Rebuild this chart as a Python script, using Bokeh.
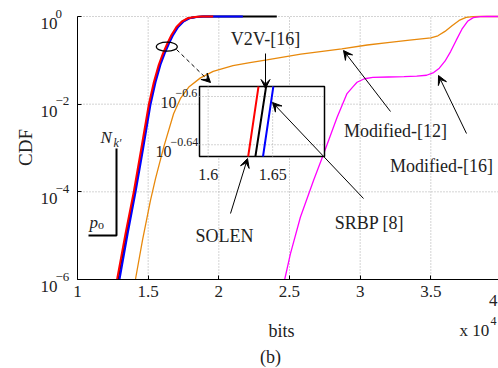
import numpy as np
from bokeh.plotting import figure
from bokeh.models import (Range1d, LogScale, FixedTicker, NumeralTickFormatter,
                          CustomJSTickFormatter, Label, Arrow, VeeHead)
from bokeh.embed import file_html
from bokeh.resources import INLINE

# ---------------------------------------------------------------------------
# Data: CDF of the number of bits (x in units of 10^4 bits)
# ---------------------------------------------------------------------------
solen_bits = [1.280, 1.340, 1.398, 1.452, 1.505, 1.540, 1.575, 1.605, 1.631,
              1.639, 1.665, 1.700, 1.740, 1.780, 1.830, 1.880, 1.960]
solen_cdf = [1e-6, 1.12e-5, 1e-4, 1e-3, 1e-2, 0.0316, 0.0794, 0.1445, 0.2239,
             0.2559, 0.3802, 0.5754, 0.7762, 0.9120, 0.9772, 0.9954, 1.0]

v2v_bits = [1.286, 1.346, 1.404, 1.458, 1.511, 1.546, 1.581, 1.611, 1.6366,
            1.6449, 1.671, 1.706, 1.746, 1.786, 1.836, 1.886, 2.000, 2.410]
v2v_cdf = [1e-6, 1.12e-5, 1e-4, 1e-3, 1e-2, 0.0316, 0.0794, 0.1445, 0.2239,
           0.2559, 0.3802, 0.5754, 0.7762, 0.9120, 0.9772, 0.9954, 0.9995, 1.0]

srbp_bits = [1.297, 1.355, 1.411, 1.465, 1.517, 1.552, 1.587, 1.617, 1.6425,
             1.6505, 1.677, 1.712, 1.752, 1.792, 1.842, 1.892, 2.000, 2.170]
srbp_cdf = [1e-6, 1.12e-5, 1e-4, 1e-3, 1e-2, 0.0316, 0.0794, 0.1445, 0.2239,
            0.2559, 0.3802, 0.5754, 0.7762, 0.9120, 0.9772, 0.9954, 0.9995, 1.0]

mod12_bits = [1.41, 1.46, 1.516, 1.552, 1.61, 1.68, 1.73, 1.79, 1.87, 1.96,
              2.10, 2.22, 2.34, 2.58, 2.87, 3.05, 3.21, 3.35, 3.50, 3.55,
              3.60, 3.65, 3.70, 3.75, 3.80, 3.85, 4.0]
mod12_cdf = [1e-6, 7.94e-6, 6.31e-5, 2.0e-4, 1.05e-3, 6.03e-3, 0.0138, 0.0251,
             0.0398, 0.0562, 0.0759, 0.0891, 0.1023, 0.1380, 0.1820, 0.2239,
             0.2570, 0.2884, 0.3236, 0.3631, 0.4571, 0.6166, 0.8128, 0.9550,
             0.9931, 1.0, 1.0]

mod16_bits = [2.466, 2.506, 2.577, 2.67, 2.742, 2.837, 2.907, 2.95, 2.978,
              3.03, 3.09, 3.20, 3.31, 3.40, 3.47, 3.52, 3.56, 3.60, 3.64,
              3.68, 3.72, 3.76, 3.80, 3.85, 3.90, 4.0]
mod16_cdf = [1e-6, 3.80e-6, 2.63e-5, 1.82e-4, 7.41e-4, 5.01e-3, 0.0174, 0.0251,
             0.0316, 0.0380, 0.0407, 0.0417, 0.0427, 0.0437, 0.0457, 0.0525,
             0.0661, 0.0955, 0.1585, 0.2884, 0.5129, 0.7762, 0.9441, 0.9931,
             1.0, 1.0]

x_ticks = [1, 1.5, 2, 2.5, 3, 3.5, 4]
x_tick_labels = ["1", "1.5", "2", "2.5", "3", "3.5", "4"]
y_ticks = [1e-6, 1e-4, 1e-2, 1]
y_tick_exponents = ["\u22126", "\u22124", "\u22122", "0"]

inset_x_ticks = [1.6, 1.65]
inset_x_labels = ["1.6", "1.65"]
inset_y_ticks = [0.2291, 0.2512]          # 10^-0.64, 10^-0.6
inset_y_exponents = ["\u22120.64", "\u22120.6"]

# ---------------------------------------------------------------------------
# Geometry (canvas pixels).  The frame covers the whole canvas; the axes sit
# at fixed data locations so that the titles and tick texts can live outside
# the data area.
# ---------------------------------------------------------------------------
W, H = 498, 368
AX_L, AX_T, AX_B = 77, 16, 279            # x = 1, CDF = 1, CDF = 1e-6
PX_PER_UNIT = 141.33                      # pixels per 10^4 bits
X_MIN, X_MAX = 1.0, 4.0
LY_MIN, LY_MAX = -6.0, 0.0
PX_PER_DEC = (AX_B - AX_T) / (LY_MAX - LY_MIN)

x_start = X_MIN - AX_L / PX_PER_UNIT
x_end = X_MIN + (W - AX_L) / PX_PER_UNIT
ly_top = LY_MAX + AX_T / PX_PER_DEC
ly_bot = LY_MIN - (H - AX_B) / PX_PER_DEC

# zoomed inset window
INSET_L, INSET_R, INSET_T, INSET_B = 199, 324, 86, 156
inset_xlim = (1.5933, 1.6902)
inset_lylim = (-0.6497, -0.5917)

FONT = "Liberation Serif"
TEXT = "#222222"
GRID = "#a8a8a8"

p = figure(width=W, height=H, x_range=Range1d(x_start, x_end),
           y_range=Range1d(10 ** ly_bot, 10 ** ly_top), y_axis_type="log",
           output_backend="svg", toolbar_location=None,
           min_border_left=0, min_border_right=0, min_border_top=0,
           min_border_bottom=0)
p.outline_line_color = None
p.background_fill_color = "white"
p.border_fill_color = "white"
p.grid.visible = False

# axes, pinned to x = 1 and CDF = 1e-6
visible_x_ticks = [t for t in x_ticks if t <= x_end]
p.xaxis.fixed_location = y_ticks[0]
p.xaxis.bounds = (X_MIN, X_MAX)
p.xaxis.ticker = FixedTicker(ticks=visible_x_ticks)
p.xaxis.formatter = NumeralTickFormatter(format="0.[0]")
p.xaxis.major_label_text_font = FONT
p.xaxis.major_label_text_font_size = "17px"
p.xaxis.major_label_text_color = TEXT
p.xaxis.major_label_standoff = 6
p.yaxis.fixed_location = X_MIN
p.yaxis.bounds = (y_ticks[0], y_ticks[-1])
p.yaxis.ticker = FixedTicker(ticks=y_ticks)
p.yaxis.formatter = CustomJSTickFormatter(code="return '';")
for ax in (p.xaxis[0], p.yaxis[0]):
    ax.major_tick_in = 4
    ax.major_tick_out = 0
    ax.minor_tick_in = 0
    ax.minor_tick_out = 0
    ax.axis_line_color = "black"
    ax.major_tick_line_color = "black"

# dotted grid inside the axes box
gx = [t for t in x_ticks[1:] if t <= x_end]
p.segment(x0=gx, x1=gx, y0=[y_ticks[0]] * len(gx), y1=[y_ticks[-1]] * len(gx),
          line_color=GRID, line_dash="1 2", line_width=1)
gy = y_ticks[1:]
p.segment(x0=[X_MIN] * len(gy), x1=[X_MAX] * len(gy), y0=gy, y1=gy,
          line_color=GRID, line_dash="1 2", line_width=1)

# main curves
p.line(mod12_bits, mod12_cdf, line_color="#e8890c", line_width=1.3)
p.line(mod16_bits, mod16_cdf, line_color="#ff00ff", line_width=1.3)
p.line(v2v_bits, v2v_cdf, line_color="black", line_width=2)
p.line(srbp_bits, srbp_cdf, line_color="#0000ff", line_width=2)
p.line(solen_bits, solen_cdf, line_color="#ff0000", line_width=2)

# ---------------------------------------------------------------------------
# Inset: its own x / log-y ranges mapped onto the inset box
# ---------------------------------------------------------------------------
sx = (INSET_R - INSET_L) / (inset_xlim[1] - inset_xlim[0])
sy = (INSET_B - INSET_T) / (inset_lylim[1] - inset_lylim[0])
p.extra_x_ranges = {"ix": Range1d(inset_xlim[0] - INSET_L / sx,
                                  inset_xlim[1] + (W - INSET_R) / sx)}
p.extra_y_ranges = {"iy": Range1d(10 ** (inset_lylim[0] - (H - INSET_B) / sy),
                                  10 ** (inset_lylim[1] + INSET_T / sy))}
p.extra_y_scales = {"iy": LogScale()}
IN = dict(x_range_name="ix", y_range_name="iy")

ib_lo, ib_hi = 10 ** inset_lylim[0], 10 ** inset_lylim[1]
p.quad(left=[inset_xlim[0]], right=[inset_xlim[1]], bottom=[ib_lo], top=[ib_hi],
       fill_color="white", line_color="black", line_width=1.5, **IN)
p.segment(x0=inset_x_ticks, x1=inset_x_ticks, y0=[ib_lo] * 2, y1=[ib_hi] * 2,
          line_color=GRID, line_dash="1 2", line_width=1, **IN)
p.segment(x0=[inset_xlim[0]] * 2, x1=[inset_xlim[1]] * 2, y0=inset_y_ticks,
          y1=inset_y_ticks, line_color=GRID, line_dash="1 2", line_width=1, **IN)


def clip_segment(xa, ya, xb, yb, xmin, xmax, ymin, ymax):
    dx, dy = xb - xa, yb - ya
    t0, t1 = 0.0, 1.0
    for pp, q in ((-dx, xa - xmin), (dx, xmax - xa), (-dy, ya - ymin), (dy, ymax - ya)):
        if pp == 0:
            if q < 0:
                return None
        else:
            t = q / pp
            if pp < 0:
                t0 = max(t0, t)
            else:
                t1 = min(t1, t)
    if t0 > t1:
        return None
    return (xa + t0 * dx, ya + t0 * dy), (xa + t1 * dx, ya + t1 * dy)


def clip_to_inset(xs, ys):
    lx = np.asarray(xs, float)
    ly = np.log10(np.asarray(ys, float))
    cx, cy = [], []
    for i in range(len(lx) - 1):
        seg = clip_segment(lx[i], ly[i], lx[i + 1], ly[i + 1],
                           inset_xlim[0], inset_xlim[1], inset_lylim[0], inset_lylim[1])
        if seg is None:
            continue
        (xa, ya), (xb, yb) = seg
        if not cx:
            cx.append(xa)
            cy.append(ya)
        cx.append(xb)
        cy.append(yb)
    return cx, [10 ** v for v in cy]


for xs, ys, col in ((v2v_bits, v2v_cdf, "black"), (srbp_bits, srbp_cdf, "#0000ff"),
                    (solen_bits, solen_cdf, "#ff0000")):
    cx, cy = clip_to_inset(xs, ys)
    p.line(cx, cy, line_color=col, line_width=2, **IN)


# ---------------------------------------------------------------------------
# Annotations (placed in canvas pixels, converted to main data coordinates)
# ---------------------------------------------------------------------------
def at(px, py):
    return x_start + px / PX_PER_UNIT, 10 ** (ly_top - py / PX_PER_DEC)


def label(px, py, text, size=18, align="left", baseline="alphabetic",
          style="normal", angle=0.0):
    x, y = at(px, py)
    p.add_layout(Label(x=x, y=y, text=text, text_font=FONT,
                       text_font_size=f"{size}px", text_align=align,
                       text_baseline=baseline, text_font_style=style,
                       text_color=TEXT, angle=angle))


def arrow(p0, p1, dash="solid"):
    x0, y0 = at(*p0)
    x1, y1 = at(*p1)
    p.add_layout(Arrow(end=VeeHead(size=9, line_color="black", fill_color="black",
                                   line_width=1),
                       x_start=x0, y_start=y0, x_end=x1, y_end=y1,
                       line_color="black", line_width=1, line_dash=dash))


# y tick labels of the main axis: 10^e
for t, e in zip(y_ticks, y_tick_exponents):
    py = AX_T + (LY_MAX - np.log10(t)) * PX_PER_DEC
    label(40, py + 7, "10", 17)
    label(55, py - 3, e, 13)

# last x tick (at the canvas edge) and the axis multiplier
for t, s in zip(x_ticks, x_tick_labels):
    if t > x_end:
        label(W - 1, 300, s, 17, align="right")
label(459, 330, "x 10", 17)
label(490, 320, "4", 12)

# inset tick labels
for t, e, left in zip(inset_y_ticks, inset_y_exponents, (155, 160)):
    py = INSET_T + (inset_lylim[1] - np.log10(t)) * sy
    label(left, py + 6.5, "10", 16)
    label(left + 15, py - 3, e, 12)
for t, s in zip(inset_x_ticks, inset_x_labels):
    label(INSET_L + (t - inset_xlim[0]) * sx, 174, s, 16, align="center")

# axis titles and caption
label(25, 147, "CDF", 19, align="center", baseline="middle", angle=np.pi / 2)
label(281, 330, "bits", 18, align="center")
label(270, 356, "(b)", 18, align="center")

# series call-outs
label(265, 38, "V2V-[16]", 18, align="center")
arrow((265, 53), (265, 88))
label(395, 130, "Modified-[12]", 18, align="center")
arrow((390, 111), (343, 50))
label(441, 165, "Modified-[16]", 18, align="center")
arrow((466, 133), (438, 75))
label(369, 222, "SRBP [8]", 18, align="center")
arrow((363, 198), (272, 102))
label(224, 235, "SOLEN", 18, align="center")
arrow((230, 213), (247, 158))

# zoom marker and dashed pointer to the inset
ex, ey = at(166.3, 46.2)
p.ellipse(x=[ex], y=[ey], width=21, height=9, width_units="screen",
          height_units="screen", fill_color=None, line_color="black", line_width=1.2)
arrow((176, 49), (210, 82), dash="4 3")

# N_k' / p_o bracket
bx, by = zip(at(116, 148), at(116, 235), at(88, 235))
p.line(list(bx), list(by), line_color="black", line_width=2)
label(100, 137, "N", 17, style="italic")
label(113, 142, "k\u2032", 12, style="italic")
label(89, 222, "p", 17, style="italic")
label(97.5, 224, "o", 12)

open("out.html", "w").write(file_html(p, INLINE))
